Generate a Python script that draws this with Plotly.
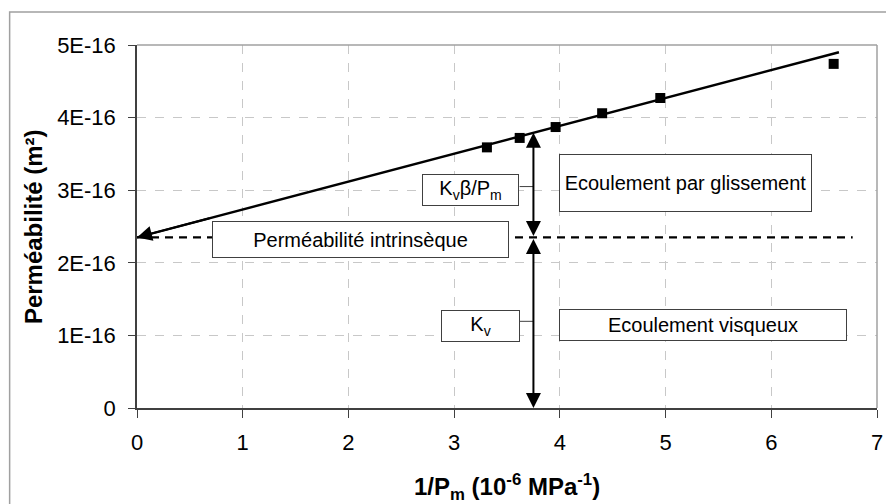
import plotly.graph_objects as go

# ---- data ----
inv_pm = [3.31, 3.62, 3.96, 4.40, 4.95, 6.59]            # 1/Pm (1e-6 MPa^-1)
permeability = [3.59e-16, 3.72e-16, 3.87e-16, 4.06e-16, 4.27e-16, 4.74e-16]  # m²

intercept = 2.35e-16        # intrinsic permeability (trend line at 1/Pm = 0)
slope = 0.384e-16           # trend slope
trend_x = [0.0, 6.64]
trend_y = [intercept + slope * v for v in trend_x]
intr_x = [0.0, 6.77]        # extent of dashed intrinsic line
x_mark = 3.75               # position of the vertical arrows

x_ticks = [0, 1, 2, 3, 4, 5, 6, 7]
x_ticklabels = ["0", "1", "2", "3", "4", "5", "6", "7"]
y_ticks = [0, 1e-16, 2e-16, 3e-16, 4e-16, 5e-16]
y_ticklabels = ["0", "1E-16", "2E-16", "3E-16", "4E-16", "5E-16"]

# ---- layout geometry (page pixels; the page body adds an 8px offset) ----
OFF = 8
PAGE_W, PAGE_H = 894, 504
W, H = PAGE_W - OFF, PAGE_H - OFF
PL, PR, PT, PB = 136.5, 877.3, 45, 408.5      # plot area in page pixels
ML, MR, MT, MB = PL - OFF, PAGE_W - PR, PT - OFF, PAGE_H - PB
PW, PH = PR - PL, PB - PT
FONT = "Liberation Sans, Arial, sans-serif"

def px_x(p):  # page pixel -> paper x
    return (p - PL) / PW

def px_y(p):  # page pixel -> paper y
    return (PB - p) / PH

fig = go.Figure()

fig.add_trace(go.Scatter(x=trend_x, y=trend_y, mode="lines",
                         line=dict(color="black", width=2.4), hoverinfo="skip"))
fig.add_trace(go.Scatter(x=intr_x, y=[intercept, intercept], mode="lines",
                         line=dict(color="black", width=2.4, dash="8px,6px"), hoverinfo="skip"))
fig.add_trace(go.Scatter(x=inv_pm, y=permeability, mode="markers",
                         marker=dict(symbol="square", size=10, color="black")))

line_at_mark = intercept + slope * x_mark

annotations = []
# arrow at left end of trend line
annotations.append(dict(x=0.0, y=intercept, ax=0.7, ay=intercept + slope * 0.7,
                        xref="x", yref="y", axref="x", ayref="y", text="",
                        showarrow=True, arrowhead=2, arrowsize=1.5, arrowwidth=2,
                        arrowcolor="black"))
# vertical double arrows
annotations.append(dict(x=x_mark, y=line_at_mark, ax=x_mark, ay=intercept,
                        xref="x", yref="y", axref="x", ayref="y", text="",
                        showarrow=True, arrowhead=2, arrowside="end+start",
                        arrowsize=1.5, arrowwidth=2, arrowcolor="black"))
annotations.append(dict(x=x_mark, y=0, ax=x_mark, ay=intercept,
                        xref="x", yref="y", axref="x", ayref="y", text="",
                        showarrow=True, arrowhead=2, arrowside="end+start",
                        arrowsize=1.5, arrowwidth=2, arrowcolor="black"))

# text boxes: (text, x center, y center, width px, height px)
boxes = [
    ("K<sub>v</sub>β/P<sub>m</sub>", 3.159, 3.0e-16, 97, 32),
    ("Ecoulement par glissement", 5.186, 3.10e-16, 253, 58),
    ("Perméabilité intrinsèque", 2.118, 2.327e-16, 297, 37),
    ("K<sub>v</sub>", 3.247, 1.132e-16, 79, 32),
    ("Ecoulement visqueux", 5.356, 1.142e-16, 288, 32),
]
for t, bx, by, bw, bh in boxes:
    annotations.append(dict(x=bx, y=by, xref="x", yref="y", text=t, showarrow=False,
                            xanchor="center", yanchor="middle", width=bw - 2, height=bh - 2,
                            bordercolor="#404040", borderwidth=1, borderpad=0,
                            bgcolor="white", font=dict(family=FONT, size=20, color="black")))

# axis titles
annotations.append(dict(x=px_x(33), y=0.5, xref="paper", yref="paper",
                        text="<b>Perméabilité (m²)</b>", textangle=-90, showarrow=False,
                        xanchor="center", yanchor="middle",
                        font=dict(family=FONT, size=24, color="black")))
annotations.append(dict(x=0.5, y=px_y(488), xref="paper", yref="paper",
                        text="<b>1/P<sub>m</sub> (10<sup>-6</sup> MPa<sup>-1</sup>)</b>",
                        showarrow=False, xanchor="center", yanchor="middle",
                        font=dict(family=FONT, size=24, color="black")))

shapes = [
    # connectors from boxes to vertical arrow
    dict(type="line", xref="x", yref="y", x0=3.619, x1=x_mark, y0=3.05e-16, y1=3.05e-16,
         line=dict(color="#404040", width=1)),
    dict(type="line", xref="x", yref="y", x0=3.622, x1=x_mark, y0=1.194e-16, y1=1.194e-16,
         line=dict(color="#404040", width=1)),
    # plot-area border top & right
    dict(type="line", xref="paper", yref="paper", x0=0, x1=1, y0=1, y1=1,
         line=dict(color="#a0a0a0", width=1.5)),
    dict(type="line", xref="paper", yref="paper", x0=1, x1=1, y0=0, y1=1,
         line=dict(color="#a0a0a0", width=1.5)),
    # outer chart border
    dict(type="rect", xref="paper", yref="paper", x0=px_x(9), x1=px_x(920),
         y0=px_y(530), y1=px_y(12), line=dict(color="#a0a0a0", width=1.5)),
]

fig.update_layout(
    width=W, height=H,
    margin=dict(l=ML, r=MR, t=MT, b=MB, pad=0),
    paper_bgcolor="white", plot_bgcolor="white",
    showlegend=False,
    font=dict(family=FONT, size=22, color="black"),
    annotations=annotations, shapes=shapes,
)
fig.update_xaxes(range=[0, 7], tickvals=x_ticks, ticktext=x_ticklabels,
                 showgrid=True, gridcolor="#c8c8c8", griddash="dash", gridwidth=1,
                 zeroline=False, showline=True, linecolor="#404040", linewidth=1.5,
                 ticks="outside", ticklen=8, tickcolor="#404040", tickwidth=1,
                 ticklabelstandoff=6, tickfont=dict(family=FONT, size=22))
fig.update_yaxes(range=[0, 5e-16], tickvals=y_ticks, ticktext=y_ticklabels,
                 showgrid=True, gridcolor="#c8c8c8", griddash="dash", gridwidth=1,
                 zeroline=False, showline=True, linecolor="#404040", linewidth=1.5,
                 ticks="outside", ticklen=7, tickcolor="#404040", tickwidth=1,
                 ticklabelstandoff=8, tickfont=dict(family=FONT, size=22))

fig.write_html("out.html")
